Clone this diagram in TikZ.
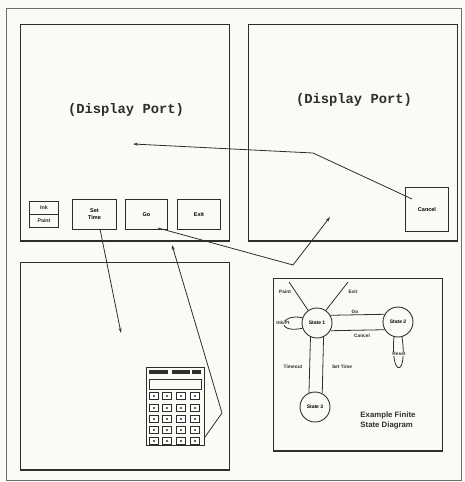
\documentclass[tikz,border=0pt]{standalone}
\usepackage{fontspec}
\setmainfont{Liberation Sans}
\newfontfamily\monofam{Liberation Mono}
\usetikzlibrary{arrows.meta,calc}
\definecolor{paper}{HTML}{FBFAF5}
\definecolor{ink}{HTML}{2E2E2E}
\tikzset{
  panel/.style={draw=ink,line width=1pt,inner sep=0pt,anchor=north west},
  btn/.style={draw=ink,line width=1pt,inner sep=0pt,anchor=north west,font=\fontsize{5.5}{6}\selectfont\bfseries,align=center},
  state/.style={circle,draw=ink,line width=0.9pt,minimum size=30pt,inner sep=0pt,font=\fontsize{5}{6}\selectfont\bfseries},
  lbl/.style={font=\fontsize{4.8}{5.5}\selectfont\bfseries,inner sep=0.5pt,text=ink},
  conn/.style={draw=ink,line width=0.8pt},
  arr/.style={conn,-{Stealth[length=5pt,width=3pt]}},
  dport/.style={font=\monofam\bfseries\fontsize{13.8}{15}\selectfont,text=ink},
  key/.style={draw=ink,line width=1pt,minimum width=9pt,minimum height=6.5pt,inner sep=0pt,fill=white},
}
\begin{document}
\begin{tikzpicture}[x=1pt,y=-1pt]
\fill[paper] (0,0) rectangle (464,482);
\useasboundingbox (0,0) rectangle (464,482);
% outer frame
\draw[ink!70,line width=0.8pt] (6,8) rectangle (461,480);
% panels
\node[panel,minimum width=209pt,minimum height=216pt] (tl) at (20,24) {};
\node[panel,minimum width=209pt,minimum height=216pt] (tr) at (248,24) {};
\node[panel,minimum width=209pt,minimum height=207pt] (bl) at (20,262) {};
\node[panel,minimum width=169pt,minimum height=172pt] (br) at (273,278) {};
\foreach \p in {tl,tr,bl,br}{\draw[ink,line width=2pt] (\p.south west) -- (\p.south east);}
% display port labels
\node[dport] (dp1) at (126,110) {(Display Port)};
\node[dport] (dp2) at (354,100) {(Display Port)};
% buttons
\node[btn,minimum width=29pt,minimum height=26pt] (ink) at (29,201) {};
\draw[ink,line width=1pt] (ink.west) -- (ink.east);
\node[lbl,font=\fontsize{5.3}{6}\selectfont\bfseries] (inkt) at ($(ink.center)+(0,-6.5)$) {Ink};
\node[lbl,font=\fontsize{5.3}{6}\selectfont\bfseries] (paintt) at ($(ink.center)+(0,6.5)$) {Paint};
\node[btn,minimum width=44pt,minimum height=30pt] (set) at (72,199) {Set\\[1pt]Time};
\node[btn,minimum width=42pt,minimum height=30pt] (go) at (125,199) {Go};
\node[btn,minimum width=43pt,minimum height=30pt] (exit) at (177,199) {Exit};
\node[btn,minimum width=43pt,minimum height=44pt] (cancel) at (405,187) {Cancel};
% connectors between panels
\coordinate (c1) at (412,199);
\coordinate (c2) at (313,153);
\coordinate (c3) at (133,144);
\draw[arr] (c1) -- (c2) -- (c3);
\coordinate (g1) at (158,228);
\coordinate (g2) at (293,265);
\coordinate (g3) at (330,217);
\draw[arr] (g1) -- (g2) -- (g3);
\coordinate (s1a) at (100,229);
\coordinate (s1b) at (121,333);
\draw[arr] (s1a) -- (s1b);
% calculator
\node[draw=ink,line width=1.2pt,minimum width=58pt,minimum height=78pt,inner sep=0pt,anchor=north west] (calc) at (146,367) {};
\fill[ink] (149,370) rectangle (168,373.5);
\fill[ink] (172,370) rectangle (190,373.5);
\fill[ink] (192,370) rectangle (201,373.5);
\draw[ink,line width=0.8pt] (149,379) rectangle (201,389);
\foreach \r/\yy in {0/396,1/408,2/419,3/430,4/441}{
  \foreach \c/\xx in {0/154,1/167,2/181,3/195}{
    \node[key] (k\r\c) at (\xx,\yy) {};
    \fill[ink] (\xx,\yy) circle (1.2pt);
  }
}
\coordinate (q1) at (205,437);
\coordinate (q2) at (222,413);
\coordinate (q3) at (172,245);
\draw[arr] (q1) -- (q2) -- (q3);
% state diagram
\node[state] (st1) at (317,323) {State 1};
\node[state] (st2) at (398,322) {State 2};
\node[state] (st3) at (315,407) {State 3};
\draw[conn] (st1.30) -- (st2.150);
\draw[conn] (st1.-30) -- (st2.-150);
\draw[conn] (st1.245) -- (st3.113);
\draw[conn] (st1.295) -- (st3.62);
\draw[conn] (st2.255) .. controls (390,378) and (408,378) .. (st2.285);
\draw[conn] (st1.160) .. controls (280,313) and (275,334) .. (st1.200);
\coordinate (pa) at (289,282);
\coordinate (ex) at (348,282);
\draw[conn] (st1.125) -- (pa);
\draw[conn] (st1.55) -- (ex);
\node[lbl,fill=paper] (lpaint) at (285,292) {Paint};
\node[lbl,fill=paper] (lexit) at (353,292) {Exit};
\node[lbl,fill=paper] (link) at (283,323) {Ink/Pt};
\node[lbl] (lgo) at (355,312) {Go};
\node[lbl] (lcan) at (362,336) {Cancel};
\node[lbl] (ltime) at (293,367) {Timeout};
\node[lbl] (lset) at (342,367) {Set Time};
\node[lbl,fill=paper] (lres) at (399,354) {Reset};
\node[font=\fontsize{7.8}{10}\selectfont\bfseries,align=left,text=ink,inner sep=0pt] (title) at (388,420) {Example Finite\\State Diagram};
\end{tikzpicture}
\end{document}
